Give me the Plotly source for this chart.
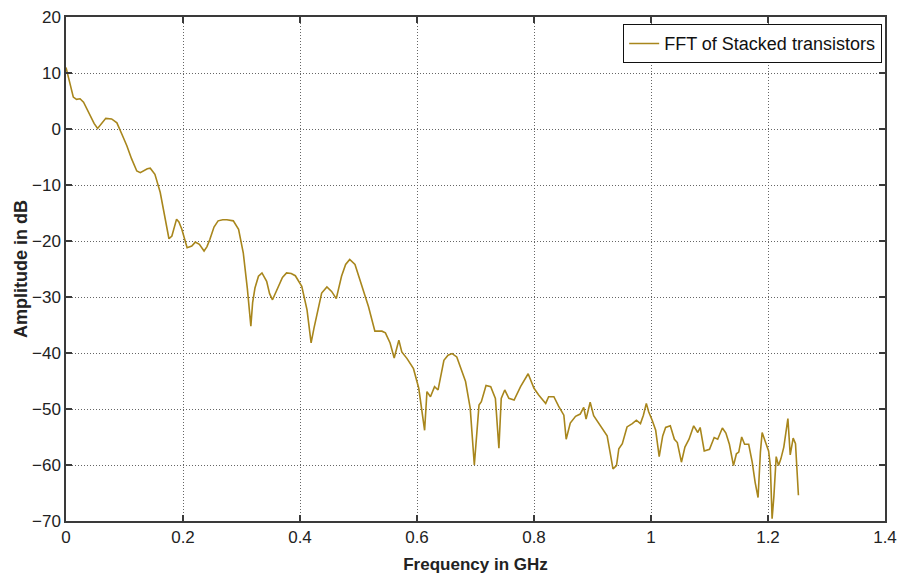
import plotly.graph_objects as go

freq_ghz = [
    0.000, 0.006, 0.0125, 0.018, 0.024, 0.030, 0.041, 0.048, 0.054, 0.058,
    0.063, 0.068, 0.078, 0.087, 0.095, 0.104, 0.112, 0.121, 0.127, 0.132,
    0.139, 0.144, 0.152, 0.161, 0.169, 0.176, 0.181, 0.185, 0.189, 0.193,
    0.198, 0.207, 0.215, 0.221, 0.228, 0.236, 0.241, 0.246, 0.253, 0.260,
    0.268, 0.275, 0.286, 0.295, 0.303, 0.310, 0.316, 0.319, 0.323, 0.329,
    0.335, 0.343, 0.348, 0.353, 0.358, 0.363, 0.370, 0.377, 0.385, 0.392,
    0.403, 0.412, 0.419, 0.424, 0.429, 0.437, 0.446, 0.454, 0.462, 0.466,
    0.471, 0.478, 0.485, 0.494, 0.506, 0.517, 0.528, 0.540, 0.546, 0.554,
    0.561, 0.569, 0.574, 0.583, 0.594, 0.603, 0.613, 0.617, 0.623, 0.630,
    0.636, 0.646, 0.653, 0.660, 0.668, 0.674, 0.683, 0.691, 0.698, 0.706,
    0.710, 0.718, 0.726, 0.734, 0.740, 0.744, 0.750, 0.757, 0.766, 0.777,
    0.790, 0.800, 0.808, 0.820, 0.825, 0.834, 0.842, 0.851, 0.855, 0.862,
    0.871, 0.879, 0.885, 0.889, 0.896, 0.902, 0.910, 0.919, 0.925, 0.930,
    0.935, 0.941, 0.945, 0.951, 0.959, 0.968, 0.975, 0.982, 0.987, 0.992,
    0.996, 1.002, 1.008, 1.014, 1.020, 1.025, 1.033, 1.040, 1.045, 1.052,
    1.058, 1.065, 1.073, 1.080, 1.084, 1.091, 1.100, 1.108, 1.114, 1.122,
    1.128, 1.134, 1.141, 1.146, 1.150, 1.155, 1.160, 1.167, 1.173, 1.178,
    1.183, 1.187, 1.190, 1.195, 1.201, 1.204, 1.207, 1.210, 1.214, 1.218,
    1.222, 1.227, 1.234, 1.238, 1.243, 1.247, 1.252,
]

amplitude_db = [
    11.0, 8.5, 5.7, 5.3, 5.4, 4.8, 2.4, 1.0, 0.1, 0.6,
    1.4, 1.9, 1.8, 1.1, -0.8, -3.0, -5.3, -7.5, -7.8, -7.5,
    -7.1, -7.0, -8.1, -11.3, -15.5, -19.6, -19.1, -17.5, -16.1, -16.6,
    -17.9, -21.2, -20.9, -20.2, -20.6, -21.8, -21.0, -19.7, -17.5, -16.4,
    -16.2, -16.2, -16.4, -17.9, -22.1, -28.5, -35.2, -31.0, -28.4, -26.3,
    -25.7, -27.2, -29.4, -30.5, -29.3, -28.1, -26.5, -25.7, -25.8, -26.2,
    -28.1, -32.3, -38.2, -35.5, -32.9, -29.3, -28.2, -29.0, -30.3, -28.5,
    -26.3, -24.2, -23.3, -24.2, -28.1, -31.7, -36.1, -36.1, -36.4, -38.2,
    -40.9, -37.7, -39.8, -41.0, -42.8, -46.3, -53.8, -46.9, -47.8, -46.0,
    -46.6, -41.3, -40.4, -40.1, -40.7, -42.5, -45.1, -49.9, -60.0, -49.3,
    -48.7, -45.8, -46.0, -48.1, -57.0, -48.1, -46.6, -48.1, -48.4, -46.0,
    -43.7, -46.3, -47.5, -49.0, -47.8, -47.8, -49.5, -51.1, -55.4, -52.5,
    -51.3, -50.9, -49.7, -51.8, -48.8, -51.2, -52.4, -53.9, -54.8, -57.7,
    -60.7, -60.1, -57.1, -56.2, -53.2, -52.6, -52.0, -52.6, -51.1, -49.0,
    -50.5, -52.0, -53.8, -58.5, -54.8, -53.3, -53.0, -55.4, -56.0, -59.5,
    -56.8, -55.4, -53.0, -54.2, -53.3, -57.5, -57.2, -55.1, -55.4, -53.4,
    -54.3, -56.3, -60.1, -58.0, -57.7, -55.0, -56.3, -56.3, -59.5, -63.1,
    -65.8, -57.7, -54.2, -55.7, -57.5, -60.1, -69.6, -65.7, -58.5, -60.1,
    -58.9, -56.8, -51.7, -58.2, -55.2, -56.2, -65.4,
]

x_ticks = [0, 0.2, 0.4, 0.6, 0.8, 1.0, 1.2, 1.4]
x_tick_labels = ["0", "0.2", "0.4", "0.6", "0.8", "1", "1.2", "1.4"]
y_ticks = [-70, -60, -50, -40, -30, -20, -10, 0, 10, 20]

FONT = "Liberation Sans, Arial, sans-serif"

fig = go.Figure()
fig.add_trace(go.Scatter(
    x=freq_ghz, y=amplitude_db, mode="lines",
    name="FFT of Stacked transistors",
    line=dict(color="#a8861c", width=1.6),
))

axis_common = dict(
    showline=True, linecolor="#3a3a3a", linewidth=1.5, mirror="allticks",
    ticks="inside", ticklen=6, tickwidth=1.5, tickcolor="#3a3a3a",
    showgrid=True, gridcolor="#666666", griddash="1px,2px", gridwidth=1,
    zeroline=False, automargin=False,
    tickfont=dict(family=FONT, size=17, color="#222222"),
)

fig.update_xaxes(
    range=[0, 1.4], tickvals=x_ticks, ticktext=x_tick_labels,
    title=dict(text="<b>Frequency in GHz</b>", font=dict(family=FONT, size=17, color="#222222"), standoff=12),
    **axis_common,
)
fig.update_yaxes(
    range=[-70, 20], tickvals=y_ticks,
    title=dict(text="<b>Amplitude in dB</b>", font=dict(family=FONT, size=18, color="#222222"), standoff=0),
    **axis_common,
)

fig.update_layout(
    width=900, height=574,
    margin=dict(l=66, r=15, t=17, b=53),
    paper_bgcolor="white", plot_bgcolor="white",
    showlegend=True,
    legend=dict(
        x=0.9963, xanchor="right", y=0.986, yanchor="top",
        bgcolor="white", bordercolor="#111111", borderwidth=1.2,
        font=dict(family=FONT, size=18, color="#111111"),
        itemwidth=30,
    ),
)

fig.write_html("out.html")
